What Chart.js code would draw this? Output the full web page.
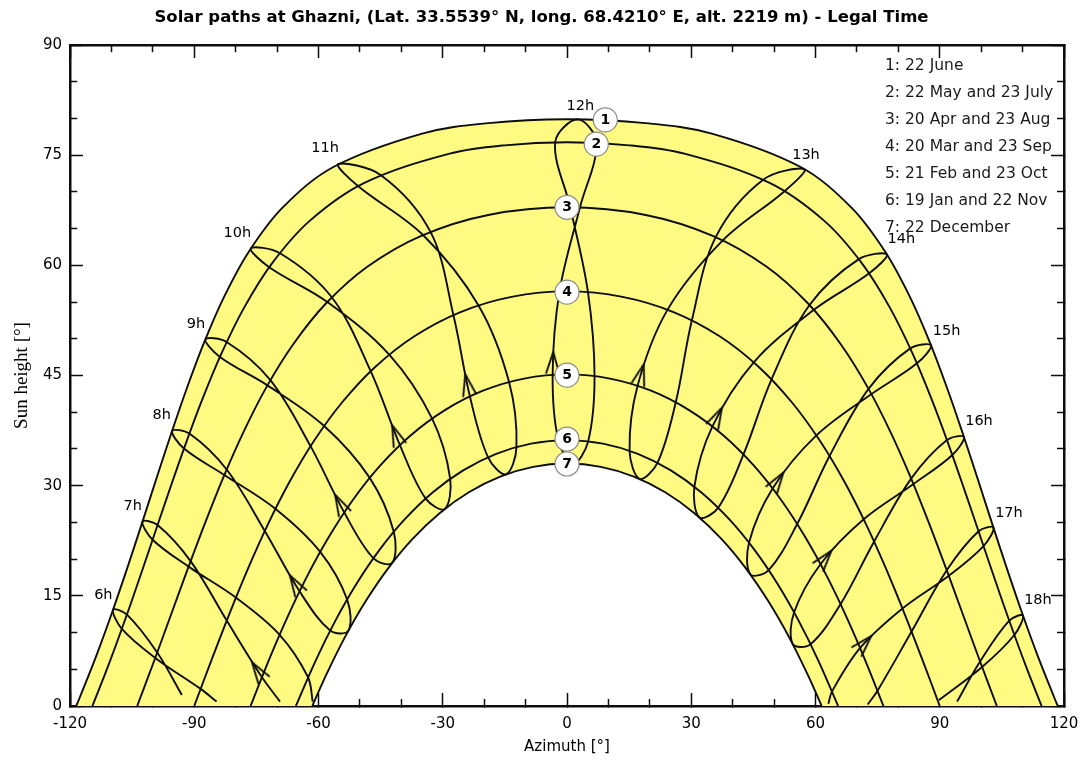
<!DOCTYPE html>
<html>
<head>
<meta charset="utf-8">
<title>Solar paths at Ghazni</title>
<script src="https://cdn.jsdelivr.net/npm/chart.js@4.4.1/dist/chart.umd.min.js"></script>
<style>
  html, body { margin: 0; padding: 0; background: #ffffff; }
  #wrap { width: 1083px; height: 760px; }
</style>
</head>
<body>
<div id="wrap"><canvas id="chart" width="1083" height="760"></canvas></div>
<script>
// ---- Sun positions: [azimuth ° (0 = south, west positive), sun height °] ----

// Daily paths, sunrise to sunset
const day1 = [[-118.50,0],[-117.57,1.26],[-113.61,6.90],[-109.86,12.70],[-106.26,18.64],[-102.73,24.69],[-99.21,30.83],[-95.60,37.03],[-91.79,43.26],[-87.61,49.51],[-82.77,55.74],[-76.79,61.89],[-68.68,67.86],[-56.30,73.42],[-34.96,77.94],[-18.97,79.37],[0,79.89],
  [18.97,79.37],[34.96,77.94],[56.30,73.42],[68.68,67.86],[76.79,61.89],[82.77,55.74],[87.61,49.51],[91.79,43.26],[95.60,37.03],[99.21,30.83],[102.73,24.69],[106.26,18.64],[109.86,12.70],[113.61,6.90],[117.57,1.26],[118.50,0]];
const day2 = [[-114.60,0],[-110.99,5.15],[-107.13,11.06],[-103.40,17.08],[-99.71,23.21],[-95.98,29.40],[-92.11,35.63],[-87.96,41.88],[-83.34,48.11],[-77.92,54.28],[-71.18,60.30],[-62.13,66.05],[-48.92,71.22],[-28.57,75.17],[-15.05,76.34],[0,76.75],
  [15.05,76.34],[28.57,75.17],[48.92,71.22],[62.13,66.05],[71.18,60.30],[77.92,54.28],[83.34,48.11],[87.96,41.88],[92.11,35.63],[95.98,29.40],[99.71,23.21],[103.40,17.08],[107.13,11.06],[110.99,5.15],[114.60,0]];
const day3 = [[-103.78,0],[-99.58,6.30],[-95.57,12.49],[-91.53,18.73],[-87.35,24.98],[-82.92,31.21],[-78.06,37.37],[-72.57,43.42],[-66.10,49.26],[-58.21,54.80],[-48.22,59.81],[-35.33,63.99],[-19.00,66.86],[0,67.90],
  [19.00,66.86],[35.33,63.99],[48.22,59.81],[58.21,54.80],[66.10,49.26],[72.57,43.42],[78.06,37.37],[82.92,31.21],[87.35,24.98],[91.53,18.73],[95.57,12.49],[99.58,6.30],[103.78,0]];
const day4 = [[-90,0],[-85.84,6.25],[-81.58,12.45],[-77.10,18.60],[-72.30,24.63],[-67.02,30.49],[-61.07,36.11],[-54.23,41.39],[-46.25,46.20],[-36.85,50.35],[-25.86,53.61],[-13.40,55.71],[0,56.45],
  [13.40,55.71],[25.86,53.61],[36.85,50.35],[46.25,46.20],[54.23,41.39],[61.07,36.11],[67.02,30.49],[72.30,24.63],[77.10,18.60],[81.58,12.45],[85.84,6.25],[90,0]];
const day5 = [[-76.40,0],[-72.23,5.92],[-67.74,11.80],[-62.92,17.48],[-57.62,22.90],[-51.75,28.01],[-45.18,32.68],[-37.78,36.83],[-29.47,40.29],[-20.28,42.93],[-10.35,44.58],[0,45.15],
  [10.35,44.58],[20.28,42.93],[29.47,40.29],[37.78,36.83],[45.18,32.68],[51.75,28.01],[57.62,22.90],[62.92,17.48],[67.74,11.80],[72.23,5.92],[76.40,0]];
const day6 = [[-65.46,0],[-60.68,6.19],[-56.01,11.52],[-50.93,16.54],[-45.36,21.19],[-39.21,25.40],[-32.46,29.07],[-25.07,32.08],[-17.10,34.33],[-8.68,35.72],[0,36.20],
  [8.68,35.72],[17.10,34.33],[25.07,32.08],[32.46,29.07],[39.21,25.40],[45.36,21.19],[50.93,16.54],[56.01,11.52],[60.68,6.19],[65.46,0]];
const day7 = [[-61.49,0],[-58.20,4.17],[-53.64,9.35],[-48.66,14.22],[-43.23,18.71],[-37.28,22.75],[-30.76,26.25],[-23.70,29.11],[-16.13,31.24],[-8.17,32.56],[0,33.01],
  [8.17,32.56],[16.13,31.24],[23.70,29.11],[30.76,26.25],[37.28,22.75],[43.23,18.71],[48.66,14.22],[53.64,9.35],[58.20,4.17],[61.49,0]];

// Hour lines over the year (Jun, Jul, Aug, Sep, Oct, Nov, Dec, Jan, Feb, Mar, Apr, May)
const h08 = [[-95.35,37.44],[-92.48,35.05],[-82.74,31.46],[-70.43,26.85],[-59.59,20.98],[-53.09,14.50],[-52.78,10.26],[-57.18,10.28],[-64.57,15.61],[-72.97,23.84],[-82.18,32.20],[-91.18,37.09]];
const h09 = [[-87.31,49.93],[-83.80,47.53],[-72.33,43.66],[-58.63,38.12],[-47.63,31.06],[-41.83,23.72],[-42.21,19.48],[-46.76,20.13],[-53.78,26.35],[-61.92,35.38],[-71.62,44.37],[-82.18,49.56]];
const h10 = [[-76.34,62.30],[-71.90,59.75],[-57.86,55.01],[-42.92,47.84],[-32.57,39.13],[-28.20,30.92],[-29.54,26.83],[-34.16,28.27],[-40.34,35.52],[-47.40,45.60],[-56.80,55.65],[-69.39,61.68]];
const h11 = [[-55.25,73.77],[-50.40,70.77],[-34.75,64.13],[-21.36,54.54],[-13.99,44.11],[-12.20,35.25],[-14.73,31.55],[-19.06,33.86],[-23.44,42.15],[-27.43,53.25],[-32.95,64.55],[-44.93,72.28]];
const h12 = [[2.61,79.88],[-2.86,76.74],[0.78,67.90],[5.06,56.35],[6.65,44.91],[5.11,36.03],[1.48,32.99],[-2.09,36.17],[-3.47,45.09],[-1.81,56.44],[3.12,67.87],[7.13,76.66]];
const h13 = [[57.35,73.07],[47.37,71.65],[35.91,63.85],[30.15,52.51],[26.26,41.35],[21.84,33.11],[17.53,30.93],[15.11,34.74],[17.04,43.59],[24.29,53.97],[37.62,63.39],[52.52,70.09]];
const h14 = [[77.24,61.48],[70.46,60.85],[58.56,54.59],[49.39,44.47],[42.61,34.25],[36.50,26.99],[31.98,25.67],[30.76,29.87],[35.11,38.07],[45.10,46.80],[59.62,53.95],[72.97,58.92]];
const h15 = [[87.91,49.09],[82.88,48.69],[72.81,43.18],[63.39,34.04],[55.58,24.78],[48.70,18.51],[44.25,17.94],[43.96,22.26],[49.68,29.65],[60.22,36.84],[73.52,42.47],[84.50,46.66]];
const h16 = [[95.85,36.62],[91.74,36.21],[83.10,30.96],[74.17,22.41],[66.05,13.87],[58.80,8.42],[54.50,8.44],[54.84,12.76],[61.24,19.34],[71.63,25.42],[83.66,30.22],[93.04,34.17]];

// Hour lines that dip under the horizon: kept from where they rise to where they set
const h06 = [[-93.00,1.50],[-98.94,7.29],[-106.25,12.45],[-109.62,13.09],[-107.48,10.50],[-99.42,6.55],[-88.45,2.33],[-84.60,0.60]];
const h07 = [[-69.30,0.60],[-73.68,3.94],[-82.16,11.63],[-90.88,19.73],[-98.85,24.65],[-102.50,25.10],[-100.05,22.64],[-91.37,18.98],[-79.96,14.76],[-69.45,9.73],[-62.55,3.95],[-61.40,0.60]];
const h17 = [[63.10,0.30],[64.00,1.99],[70.78,7.90],[81.00,13.27],[92.18,17.73],[100.57,21.77],[102.96,24.28],[99.37,23.79],[91.69,18.48],[83.20,10.14],[75.01,2.11],[72.60,0.20]];
const h18 = [[89.80,0.80],[100.22,5.31],[108.01,9.67],[110.10,12.31],[106.78,11.62],[99.74,6.05],[94.20,0.60]];

// Direction arrows on the hour lines (late February), from -> tip
const arrowFrom = [[-73.68,3.94],[-64.57,15.61],[-53.78,26.35],[-40.34,35.52],[-23.44,42.15],[-3.47,45.09],[17.04,43.59],[35.11,38.07],[49.68,29.65],[61.24,19.34],[70.78,7.90]];
const arrowTip  = [[-76.05,5.94],[-66.89,17.79],[-55.98,28.77],[-42.22,38.24],[-24.56,45.15],[-3.31,48.19],[18.53,46.52],[37.41,40.62],[52.25,31.78],[63.87,21.16],[73.45,9.52]];

// Labels
const hourNames = ['6h','7h','8h','9h','10h','11h','12h','13h','14h','15h','16h','17h','18h'];
const hourLabelAt = [[-111.95,15.11],[-104.85,27.23],[-97.85,39.53],[-89.57,51.97],[-79.60,64.37],[-58.43,75.94],[3.21,81.70],[57.70,75.03],[80.71,63.55],[91.67,51.06],[99.47,38.71],[106.71,26.24],[113.71,14.43]];
const dayMarkAt = [[9.25,79.80],[7.07,76.50],[0,67.90],[0,56.35],[0,45.05],[0,36.35],[0,32.95]];
const dayLegend = ['1: 22 June','2: 22 May and 23 July','3: 20 Apr and 23 Aug','4: 20 Mar and 23 Sep','5: 21 Feb and 23 Oct','6: 19 Jan and 22 Nov','7: 22 December'];
const azimuthRange = [-120, 120];
const heightRange = [0, 90];

// ---- drawing ----
const FONT = '"DejaVu Sans", sans-serif';
Chart.defaults.font.family = FONT;
Chart.defaults.color = '#000';
const INK = '#0d0d0d';
const BAND = '#fffa82';

const toXY = (pts) => pts.map(([x, y]) => ({ x, y }));

function pathSet(label, pts, extra) {
  return Object.assign({
    label, data: toXY(pts), showLine: true, borderColor: INK, borderWidth: 1.9,
    pointRadius: 0, pointHoverRadius: 0, tension: 0.35, fill: false, order: 4
  }, extra || {});
}

// closed hour loop: wrap one point on each side so the join is smooth, hide the wrap segments
function loopSet(label, pts) {
  const n = pts.length;
  const wrapped = [pts[n - 1], ...pts, pts[0], pts[1]];
  const last = wrapped.length - 1;
  return pathSet(label, wrapped, {
    segment: { borderColor: (s) => (s.p0DataIndex === 0 || s.p1DataIndex === last ? 'rgba(0,0,0,0)' : INK) }
  });
}

// yellow band between the June and December paths
const band = [...day1, day1[day1.length - 1], day7[day7.length - 1], ...day7.slice().reverse()];

function chevron() {
  const c = document.createElement('canvas');
  c.width = 48; c.height = 48;
  const g = c.getContext('2d');
  g.strokeStyle = INK; g.lineWidth = 1.9; g.lineJoin = 'round'; g.lineCap = 'round';
  g.beginPath(); g.moveTo(24 - 6.5, 24 + 21); g.lineTo(24, 24); g.lineTo(24 + 6.5, 24 + 21); g.stroke();
  return c;
}
const arrowImg = chevron();

const datasets = [
  { label: 'marks', data: toXY(dayMarkAt), showLine: false, pointRadius: 12, pointHoverRadius: 12,
    pointBackgroundColor: '#ffffff', pointBorderColor: '#8a8a8a', pointBorderWidth: 1.2, order: 1 },
  { label: 'arrows', data: toXY(arrowTip), showLine: false, pointStyle: arrowImg, pointRadius: 10,
    pointRotation: (c) => {
      const i = c.dataIndex, sx = c.chart.scales.x, sy = c.chart.scales.y;
      if (!sx || !sy || i === undefined) return 0;
      const dx = sx.getPixelForValue(arrowTip[i][0]) - sx.getPixelForValue(arrowFrom[i][0]);
      const dy = sy.getPixelForValue(arrowTip[i][1]) - sy.getPixelForValue(arrowFrom[i][1]);
      return Math.atan2(dx, -dy) * 180 / Math.PI;
    }, order: 2 },
  pathSet('6h', h06), pathSet('7h', h07),
  loopSet('8h', h08), loopSet('9h', h09), loopSet('10h', h10), loopSet('11h', h11), loopSet('12h', h12),
  loopSet('13h', h13), loopSet('14h', h14), loopSet('15h', h15), loopSet('16h', h16),
  pathSet('17h', h17), pathSet('18h', h18),
  pathSet('d1', day1, { order: 5 }), pathSet('d2', day2, { order: 5 }), pathSet('d3', day3, { order: 5 }),
  pathSet('d4', day4, { order: 5 }), pathSet('d5', day5, { order: 5 }), pathSet('d6', day6, { order: 5 }),
  pathSet('d7', day7, { order: 5 }),
  { label: 'band', data: toXY(band), showLine: true, borderWidth: 0, borderColor: 'rgba(0,0,0,0)',
    backgroundColor: BAND, fill: 'shape', tension: 0.35, pointRadius: 0, pointHoverRadius: 0, order: 10 }
];

// inward tick marks: long at labelled values, short in between
function tickGrid(majorEvery, innerStart) {
  return {
    display: true, drawOnChartArea: false, drawTicks: true, tickLength: -13,
    tickWidth: 1.5, tickColor: INK,
    tickBorderDash: (c) => (c.tick && Math.abs(c.tick.value % majorEvery) < 1e-6 ? [] : (innerStart ? [20, 100] : [8.5, 100])),
    tickBorderDashOffset: (c) => (c.tick && Math.abs(c.tick.value % majorEvery) < 1e-6 ? 0 : (innerStart ? 114.25 : 0))
  };
}
const frame = { display: true, width: 2.5, color: INK };

// fixed axis band sizes so the plot frame lands where it should
function fixSize(prop, value) {
  return (s) => {
    s[prop] = value;
    s.paddingLeft = 0; s.paddingRight = 0; s.paddingTop = 0; s.paddingBottom = 0;
  };
}

const annotate = {
  id: 'annotate',
  afterDatasetsDraw(chart) {
    const { ctx, chartArea, scales: { x, y } } = chart;
    ctx.save();
    ctx.fillStyle = '#000';
    ctx.textAlign = 'center';
    ctx.textBaseline = 'middle';
    ctx.font = '14.5px ' + FONT;
    hourNames.forEach((t, i) => {
      ctx.fillText(t, x.getPixelForValue(hourLabelAt[i][0]), y.getPixelForValue(hourLabelAt[i][1]));
    });
    ctx.font = 'bold 14px ' + FONT;
    dayMarkAt.forEach((p, i) => {
      ctx.fillText(String(i + 1), x.getPixelForValue(p[0]), y.getPixelForValue(p[1]) + 0.5);
    });
    ctx.textAlign = 'left';
    ctx.fillStyle = '#1a1a1a';
    ctx.font = '15.5px ' + FONT;
    dayLegend.forEach((t, i) => {
      ctx.fillText(t, chartArea.right - 179, chartArea.top + 21 + i * 27.05);
    });
    ctx.restore();
  }
};

new Chart(document.getElementById('chart'), {
  type: 'scatter',
  data: { datasets },
  plugins: [annotate],
  options: {
    responsive: false,
    devicePixelRatio: 1,
    animation: false,
    events: [],
    layout: { padding: 0, autoPadding: false },
    plugins: {
      legend: { display: false },
      tooltip: { enabled: false },
      title: {
        display: true,
        text: 'Solar paths at Ghazni, (Lat. 33.5539° N, long. 68.4210° E, alt. 2219 m) - Legal Time',
        font: { family: FONT, size: 16.5, weight: 'bold' }, color: '#000',
        padding: { top: 8, bottom: 17.2 }
      }
    },
    scales: {
      x: {
        type: 'linear', position: 'bottom', min: azimuthRange[0], max: azimuthRange[1],
        ticks: { stepSize: 10, autoSkip: false, maxRotation: 0, padding: 22, font: { size: 15 }, color: '#000',
          callback: (v) => (Math.abs(v % 30) < 1e-6 ? String(v) : '') },
        grid: tickGrid(30, false), border: frame,
        title: { display: true, text: 'Azimuth [°]', font: { size: 15 }, color: '#000', padding: { top: 0, bottom: 4 } },
        afterFit: fixSize('height', 54)
      },
      x2: {
        type: 'linear', position: 'top', min: azimuthRange[0], max: azimuthRange[1],
        ticks: { stepSize: 10, display: false, autoSkip: false },
        grid: tickGrid(30, true), border: frame,
        afterFit: fixSize('height', 0)
      },
      y: {
        type: 'linear', position: 'left', min: heightRange[0], max: heightRange[1],
        ticks: { stepSize: 5, autoSkip: false, padding: 21, font: { size: 15 }, color: '#000',
          callback: (v) => (Math.abs(v % 15) < 1e-6 ? String(v) : '') },
        grid: tickGrid(15, true), border: frame,
        title: { display: true, text: 'Sun height [°]', font: { family: '"Liberation Serif", serif', size: 19 }, color: '#000', padding: { top: 11, bottom: 0 } },
        afterFit: fixSize('width', 70)
      },
      y2: {
        type: 'linear', position: 'right', min: heightRange[0], max: heightRange[1],
        ticks: { stepSize: 5, display: false, autoSkip: false },
        grid: tickGrid(15, false), border: frame,
        afterFit: fixSize('width', 19)
      }
    }
  }
});
</script>
</body>
</html>
